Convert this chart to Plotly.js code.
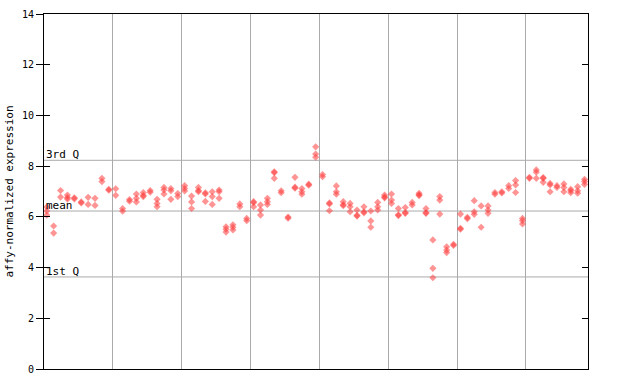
<!DOCTYPE html>
<html>
<head>
<meta charset="utf-8">
<script src="https://cdn.plot.ly/plotly-3.0.1.min.js"></script>
<style>html,body{margin:0;padding:0;background:#fff;}#chart{width:640px;height:384px;}</style>
</head>
<body>
<div id="chart"></div>
<script>
// replicate expression values for each sample, in sample order
const sampleValues = [
  [6.39, 6.23, 6.07],
  [5.64, 5.36],
  [7.04, 6.78],
  [6.86, 6.76, 6.7],
  [6.75, 6.71],
  [6.59, 6.55],
  [6.77, 6.49],
  [6.73, 6.45],
  [7.52, 7.39],
  [7.09, 7.05],
  [7.11, 6.85],
  [6.33, 6.22],
  [6.68, 6.62],
  [6.9, 6.73, 6.59],
  [6.96, 6.85, 6.8],
  [7.04, 6.97],
  [6.69, 6.53, 6.4],
  [7.16, 7.06, 6.9],
  [7.12, 7.03, 6.69],
  [6.92, 6.8],
  [7.23, 7.12, 7.02],
  [6.82, 6.59, 6.33],
  [7.16, 7.04, 6.99],
  [6.95, 6.9, 6.61],
  [6.99, 6.8, 6.49],
  [7.06, 6.99, 6.73],
  [5.61, 5.51, 5.4],
  [5.69, 5.59, 5.48],
  [6.51, 6.4],
  [5.94, 5.85],
  [6.6, 6.56, 6.4],
  [6.47, 6.27, 6.07],
  [6.73, 6.6, 6.49],
  [7.78, 7.74, 7.52],
  [7.03, 6.95],
  [5.99, 5.95],
  [7.56, 7.17, 7.13],
  [7.12, 6.99, 6.89],
  [7.29, 7.25],
  [8.76, 8.48, 8.35],
  [7.67, 7.58],
  [6.55, 6.51, 6.24],
  [7.22, 6.99, 6.89],
  [6.6, 6.48, 6.44],
  [6.53, 6.4, 6.2],
  [6.27, 6.06, 6.03],
  [6.4, 6.2, 6.16],
  [6.23, 5.84, 5.59],
  [6.57, 6.4, 6.27],
  [6.86, 6.78, 6.75],
  [6.9, 6.66, 6.53],
  [6.33, 6.08, 6.05],
  [6.37, 6.17, 6.14],
  [6.57, 6.47],
  [6.93, 6.87, 6.84],
  [6.33, 6.17, 6.14],
  [5.09, 3.97, 3.6],
  [6.8, 6.66, 6.11],
  [4.82, 4.69, 4.59],
  [4.92, 4.87],
  [6.11, 5.55, 5.51],
  [5.98, 5.93],
  [6.64, 6.2, 6.1],
  [6.43, 5.59],
  [6.43, 6.27, 6.14],
  [6.96, 6.89],
  [6.99, 6.94],
  [7.23, 7.12],
  [7.43, 7.26, 6.96],
  [5.94, 5.85, 5.72],
  [7.56, 7.52],
  [7.85, 7.76, 7.52],
  [7.55, 7.52, 7.36],
  [7.32, 7.26, 6.99],
  [7.23, 7.16],
  [7.3, 7.16, 6.99],
  [7.09, 7.03, 6.95],
  [7.19, 7.03, 6.93],
  [7.48, 7.39, 7.28]
];
const thirdQuartile = 8.23;
const meanValue = 6.23;
const firstQuartile = 3.63;
const yTicks = [0, 2, 4, 6, 8, 10, 12, 14];
const groupBoundaries = [9.5, 19.5, 29.5, 39.5, 49.5, 59.5, 69.5];

const xs = [], ys = [];
sampleValues.forEach((vals, i) => vals.forEach(v => { xs.push(i); ys.push(v); }));

const mono = "DejaVu Sans Mono";
const data = [
  {
    x: xs, y: ys, type: 'scatter', mode: 'markers',
    marker: {symbol: 'diamond', size: 5.5, color: 'rgba(255,60,60,0.55)', line: {width: 0}},
    hoverinfo: 'y', showlegend: false
  },
  {
    x: [0], y: [0], yaxis: 'y2', type: 'scatter', mode: 'markers',
    marker: {opacity: 0}, hoverinfo: 'skip', showlegend: false
  }
];

const lineStyle = {color: '#aaaaaa', width: 1};
const layout = {
  width: 640, height: 384,
  margin: {l: 44, r: 52, t: 14, b: 15, pad: 0},
  paper_bgcolor: '#fff', plot_bgcolor: '#fff',
  showlegend: false,
  xaxis: {
    range: [-0.4, 78.5], tickvals: groupBoundaries, showticklabels: false,
    ticks: '', showgrid: true, gridcolor: '#aaaaaa', gridwidth: 1,
    zeroline: false, showline: true, linecolor: '#000', linewidth: 1, mirror: true
  },
  yaxis: {
    range: [0, 14], tickvals: yTicks, ticktext: yTicks.map(String),
    ticks: 'outside', ticklen: 7, tickcolor: '#000', tickwidth: 1,
    showgrid: false, zeroline: false, showline: true, linecolor: '#000', linewidth: 1, mirror: true,
    tickfont: {family: mono, size: 10, color: '#000'},
    title: {text: 'affy-normalized expression', font: {family: mono, size: 11, color: '#000'}, standoff: 6}
  },
  yaxis2: {
    range: [0, 14], tickvals: yTicks, overlaying: 'y', side: 'right',
    ticks: 'inside', ticklen: 6, tickcolor: '#000', mirror: 'ticks',
    showticklabels: false, showgrid: false, zeroline: false, showline: false
  },
  shapes: [
    {type: 'line', xref: 'paper', x0: 0, x1: 1, yref: 'y', y0: thirdQuartile, y1: thirdQuartile, line: lineStyle, layer: 'below'},
    {type: 'line', xref: 'paper', x0: 0, x1: 1, yref: 'y', y0: meanValue, y1: meanValue, line: lineStyle, layer: 'below'},
    {type: 'line', xref: 'paper', x0: 0, x1: 1, yref: 'y', y0: firstQuartile, y1: firstQuartile, line: lineStyle, layer: 'below'}
  ],
  annotations: [
    {text: '3rd Q', xref: 'paper', x: 0, xanchor: 'left', yref: 'y', y: thirdQuartile, yanchor: 'bottom', yshift: -3, showarrow: false, font: {family: mono, size: 11, color: '#000'}},
    {text: 'mean', xref: 'paper', x: 0, xanchor: 'left', yref: 'y', y: meanValue, yanchor: 'bottom', yshift: -3, showarrow: false, font: {family: mono, size: 11, color: '#000'}},
    {text: '1st Q', xref: 'paper', x: 0, xanchor: 'left', yref: 'y', y: firstQuartile, yanchor: 'bottom', yshift: -3, showarrow: false, font: {family: mono, size: 11, color: '#000'}}
  ]
};

Plotly.newPlot('chart', data, layout, {staticPlot: true, displayModeBar: false});
</script>
</body>
</html>
